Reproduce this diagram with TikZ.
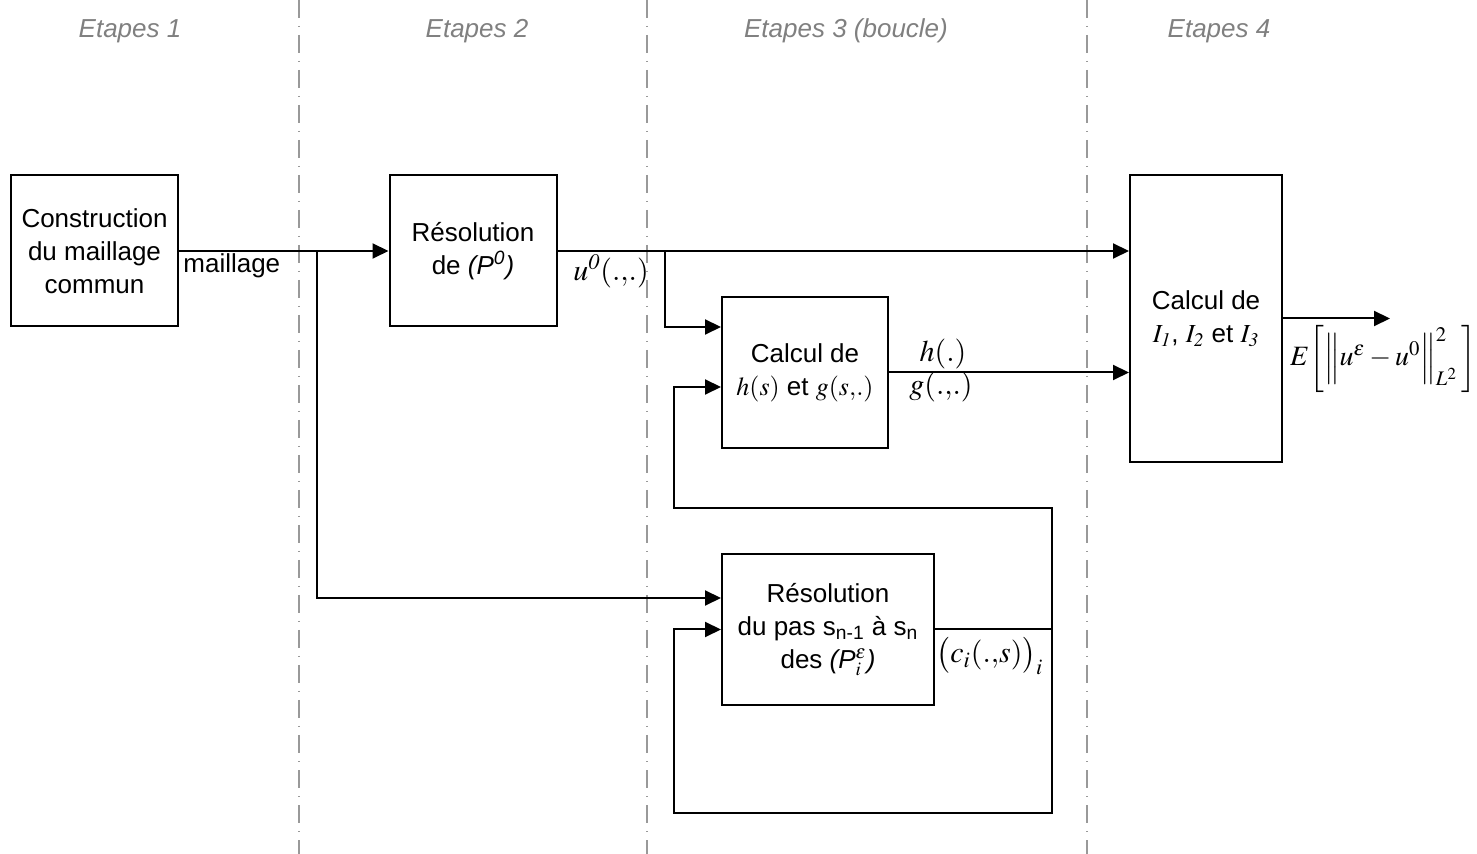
\documentclass[tikz,border=0pt]{standalone}
\usepackage{amsmath,amssymb}
\usepackage{mathptmx}
\usepackage[no-math]{fontspec}
\setmainfont{Liberation Sans}
\usetikzlibrary{arrows.meta}

\tikzset{
  bloc/.style={draw, line width=1pt, align=center, inner sep=0pt, font=\fontsize{13}{16.5}\selectfont},
  fleche/.style={line width=1pt, -{Triangle[length=8pt,width=7.5pt]}},
  trait/.style={line width=1pt},
  etape/.style={text=gray, font=\fontsize{13}{16}\selectfont\itshape},
  limite/.style={black!40, line width=0.7pt, dash pattern=on 9pt off 4pt on 0.5pt off 4pt},
  lbl/.style={inner sep=0pt, font=\fontsize{15}{17}\selectfont}
}

\begin{document}
\begin{tikzpicture}[x=0.5pt,y=-0.5pt]
\useasboundingbox (0,0) rectangle (1477,854);
\draw[limite] (299,0) -- (299,854);
\draw[limite] (647,0) -- (647,854);
\draw[limite] (1087,0) -- (1087,854);
\node (e1) at (130,31) [etape] {Etapes 1};
\node (e2) at (477,31) [etape] {Etapes 2};
\node (e3) at (846,31) [etape] {Etapes 3 (boucle)};
\node (e4) at (1219,31) [etape] {Etapes 4};

\node (maill) at (94.5,251) [bloc, minimum width=83.5pt, minimum height=75.5pt] {Construction\\du maillage\\commun};
\node (res) at (473,251) [bloc, minimum width=83.5pt, minimum height=75.5pt] {Résolution\\de \textit{(P\textsuperscript{0})}};
\node (hg) at (805,372.5) [bloc, minimum width=83pt, minimum height=75.5pt] {Calcul de\\$h(s)$ et $g(s{,}.)$};
\node (calc) at (1206,318.5) [bloc, minimum width=76pt, minimum height=143.5pt] {Calcul de\\$I_{\mathit{1}}$, $I_{\mathit{2}}$ et $I_{\mathit{3}}$};
\node (pas) at (828,629.5) [bloc, minimum width=106pt, minimum height=75.5pt] {Résolution\\du pas s\textsubscript{n-1} à s\textsubscript{n}\\des \textit{(P$^{\varepsilon}_{i}$)}};

\coordinate (j1) at (317,251);
\coordinate (j2) at (665,251);
\coordinate (j3) at (1052,629.5);
\coordinate (r1) at (1052,508);
\coordinate (r2) at (674,508);
\coordinate (r3) at (1052,813);
\coordinate (r4) at (674,813);
\coordinate (sortie) at (1390,318.5);

\draw[fleche] (maill.east) -- (res.west);
\draw[fleche] (j1) |- ([yshift=15.75pt]pas.west);
\draw[fleche] (res.east) -- (res.east -| calc.west);
\draw[fleche] (j2) |- ([yshift=22.75pt]hg.west);
\draw[fleche] (hg.east) -- (hg.east -| calc.west);
\draw[fleche] (calc.east) -- (sortie);
\draw[trait] (pas.east) -- (j3);
\draw[fleche] (j3) -- (r1) -- (r2) |- ([yshift=-7.25pt]hg.west);
\draw[fleche] (j3) -- (r3) -- (r4) |- (pas.west);

\node (lm) at (183,266) [lbl, anchor=west, font=\fontsize{13}{16}\selectfont] {maillage};
\node (lu) at (611,271) [lbl] {$u^{\mathit{0}}(.{,}.)$};
\node (lh) at (943,354) [lbl] {$h(.)$};
\node (lg) at (941,387) [lbl] {$g(.{,}.)$};
\node (lc) at (990,656) [lbl] {$\bigl(c_i(.{,}s)\bigr)_i$};
\node (le) at (1383,359) [lbl, font=\fontsize{14}{16}\selectfont] {$E\biggl[\Bigl\|u^{\varepsilon}-u^{0}\Bigr\|_{L^2}^{2}\,\biggr]$};
\end{tikzpicture}
\end{document}
